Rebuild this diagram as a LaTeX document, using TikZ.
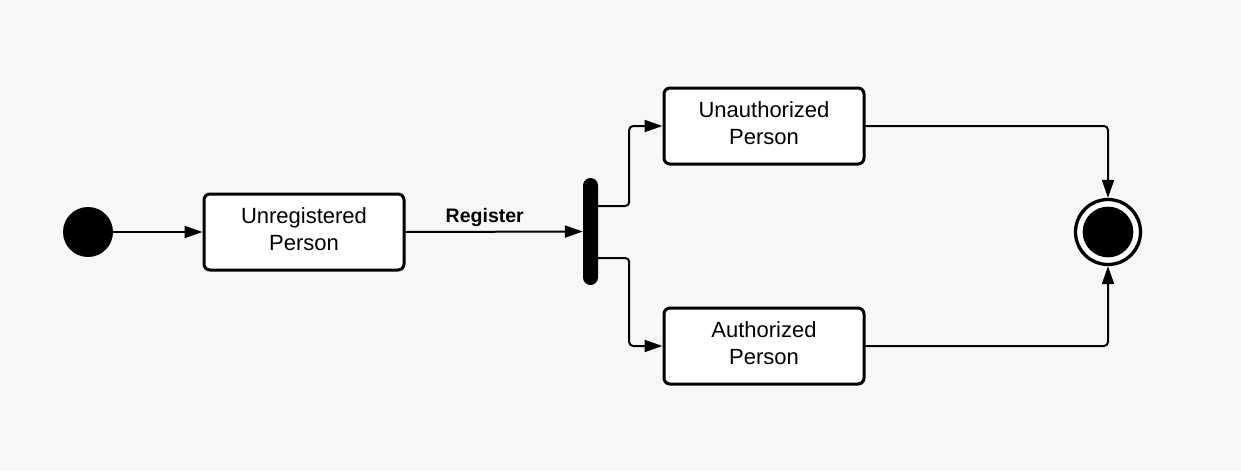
\documentclass[tikz,border=0pt]{standalone}
\usepackage{fontspec}
\setmainfont{Liberation Sans}
\usetikzlibrary{arrows.meta}
\definecolor{bgc}{HTML}{F7F7F7}
\tikzset{
  statebox/.style={draw=black, fill=white, line width=3pt, rounded corners=6pt,
    minimum width=200pt, minimum height=76pt, inner sep=0pt, align=center,
    text depth=6pt, font=\fontsize{22}{27}\selectfont},
  conn/.style={draw=black, line width=2pt, rounded corners=4pt,
    -{Triangle[length=18pt,width=12pt]}},
  forkbar/.style={fill=black, rounded corners=7.5pt, minimum width=15pt,
    minimum height=107pt, inner sep=0pt},
  lbl/.style={font=\fontsize{19.5}{23}\selectfont\bfseries, inner sep=0pt}
}
\begin{document}
\begin{tikzpicture}[x=1pt,y=-1pt]
\fill[bgc] (0,0) rectangle (1241,471);
\useasboundingbox (0,0) rectangle (1241,471);
\node[circle, fill=black, minimum size=50pt, inner sep=0pt] (init) at (88,232) {};
\node[statebox] (unreg) at (304,232) {Unregistered\\Person};
\node[forkbar] (fork) at (590.5,231.5) {};
\node[statebox] (unauth) at (764,126) {Unauthorized\\Person};
\node[statebox] (auth) at (764,346) {Authorized\\Person};
\node[circle, draw=black, fill=white, line width=3.3pt, minimum size=65pt, inner sep=0pt] (final) at (1108,232) {};
\node[circle, fill=black, minimum size=50.7pt, inner sep=0pt] (finalin) at (final.center) {};
\draw[conn] (init) -- (unreg);
\draw[conn] (unreg.east) -- (fork.west) node[lbl, pos=0.447, above=4pt] (reg) {Register};
\draw[conn] ([yshift=25.5pt]fork.east) -- ++(31,0) |- (unauth.west);
\draw[conn] ([yshift=-26.5pt]fork.east) -- ++(31,0) |- (auth.west);
\draw[conn] (unauth.east) -| (final.north);
\draw[conn] (auth.east) -| (final.south);
\end{tikzpicture}
\end{document}
